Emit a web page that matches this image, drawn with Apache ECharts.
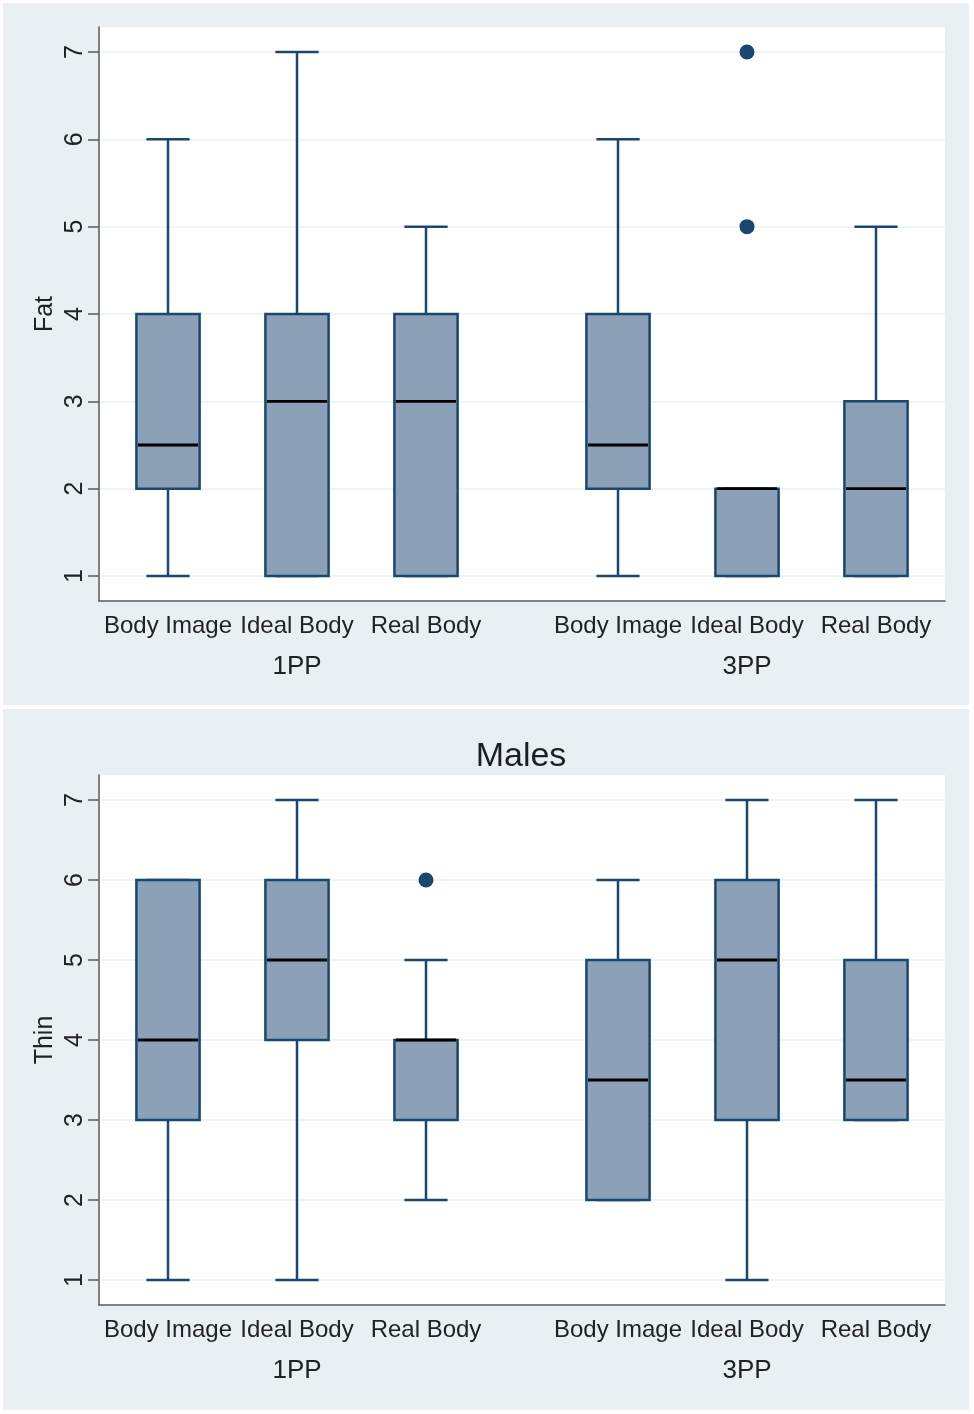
<!DOCTYPE html>
<html>
<head>
<meta charset="utf-8">
<script src="https://cdn.jsdelivr.net/npm/echarts@6/dist/echarts.min.js"></script>
<style>
html,body{margin:0;padding:0;background:#fff;}
#chart{width:974px;height:1414px;}
</style>
</head>
<body>
<div id="chart"></div>
<script>
// ---------------- DATA ----------------
const categories = ['Body Image', 'Ideal Body', 'Real Body'];
const groups = ['1PP', '3PP'];
const yTickMin = 1, yTickMax = 7, yTickStep = 1;

// [min, Q1, median, Q3, max]
const fat1PP = [[1, 2, 2.5, 4, 6], [1, 1, 3, 4, 7], [1, 1, 3, 4, 5]];
const fat3PP = [[1, 2, 2.5, 4, 6], [1, 1, 2, 2, 2], [1, 1, 2, 3, 5]];
const fatOutliers1PP = [];
const fatOutliers3PP = [['Ideal Body', 5], ['Ideal Body', 7]];

const thin1PP = [[1, 3, 4, 6, 6], [1, 4, 5, 6, 7], [2, 3, 4, 4, 5]];
const thin3PP = [[2, 2, 3.5, 5, 6], [1, 3, 5, 6, 7], [3, 3, 3.5, 5, 7]];
const thinOutliers1PP = [['Real Body', 6]];
const thinOutliers3PP = [];

const panelTitles = ['', 'Males'];
const yNames = ['Fat', 'Thin'];

// ---------------- STYLE ----------------
const NAVY = '#1a476f';
const BOXFILL = '#8ca1b7';
const PANELBG = '#e9f0f3';
const FONT = 'Liberation Sans, Arial, sans-serif';

function renderBox(params, api) {
  const x = api.value(0);
  const mn = api.value(1), q1 = api.value(2), md = api.value(3), q3 = api.value(4), mx = api.value(5);
  const band = api.size([1, 0])[0];
  const bw = band * 0.49, cw = band * 0.335;
  const pMin = api.coord([x, mn]), pQ1 = api.coord([x, q1]), pMd = api.coord([x, md]);
  const pQ3 = api.coord([x, q3]), pMax = api.coord([x, mx]);
  const cx = pMd[0];
  const ls = { stroke: NAVY, lineWidth: 2.5 };
  return {
    type: 'group',
    children: [
      { type: 'line', shape: { x1: cx, y1: pMax[1], x2: cx, y2: pQ3[1] }, style: ls },
      { type: 'line', shape: { x1: cx, y1: pQ1[1], x2: cx, y2: pMin[1] }, style: ls },
      { type: 'line', shape: { x1: cx - cw / 2, y1: pMax[1], x2: cx + cw / 2, y2: pMax[1] }, style: ls },
      { type: 'line', shape: { x1: cx - cw / 2, y1: pMin[1], x2: cx + cw / 2, y2: pMin[1] }, style: ls },
      { type: 'rect', shape: { x: cx - bw / 2, y: pQ3[1], width: bw, height: pQ1[1] - pQ3[1] },
        style: { fill: BOXFILL, stroke: NAVY, lineWidth: 2.5 } },
      { type: 'line', shape: { x1: cx - bw / 2 + 1.5, y1: pMd[1], x2: cx + bw / 2 - 1.5, y2: pMd[1] },
        style: { stroke: '#000', lineWidth: 2.8 } }
    ]
  };
}

const panels = [
  { top: 27, axisY: 601, tickTop: 52, tickBottom: 576, data: [fat1PP, fat3PP], outl: [fatOutliers1PP, fatOutliers3PP] },
  { top: 775, axisY: 1305, tickTop: 800, tickBottom: 1280, data: [thin1PP, thin3PP], outl: [thinOutliers1PP, thinOutliers3PP] }
];

const grid = [], xAxis = [], yAxis = [], series = [];
panels.forEach((p, pi) => {
  // background grid with axis lines
  const gBg = grid.length;
  grid.push({ left: 99, right: 29, top: p.top, height: p.axisY - p.top, show: true, backgroundColor: '#fff', borderWidth: 0 });
  xAxis.push({ gridIndex: gBg, type: 'value', min: 0, max: 1, axisLine: { show: true, onZero: false, lineStyle: { color: '#5a5a5a', width: 1.5 } },
    axisTick: { show: false }, axisLabel: { show: false }, splitLine: { show: false } });
  yAxis.push({ gridIndex: gBg, type: 'value', min: 0, max: 1, axisLine: { show: true, onZero: false, lineStyle: { color: '#5a5a5a', width: 1.5 } },
    axisTick: { show: false }, axisLabel: { show: false }, splitLine: { show: false } });
  // tick grid
  const gT = grid.length;
  grid.push({ left: 99, right: 29, top: p.tickTop, height: p.tickBottom - p.tickTop });
  xAxis.push({ gridIndex: gT, type: 'value', show: false, min: 0, max: 1 });
  yAxis.push({ gridIndex: gT, type: 'value', min: yTickMin, max: yTickMax, interval: yTickStep,
    axisLine: { show: false },
    axisTick: { show: true, length: 11, lineStyle: { color: '#5a5a5a', width: 1.5 } },
    axisLabel: { rotate: 90, fontSize: 25, color: '#222', fontFamily: FONT, margin: 11 },
    splitLine: { show: true, lineStyle: { color: '#eaf0f2', width: 1.5 } },
    name: yNames[pi], nameLocation: 'middle', nameGap: 41, nameRotate: 90, nameMoveOverlap: false,
    nameTextStyle: { fontSize: 25, color: '#222', fontFamily: FONT } });
  // group grids
  const lefts = [103.5, 553.5];
  groups.forEach((gname, gi) => {
    const g = grid.length;
    grid.push({ left: lefts[gi], width: 387, top: p.tickTop, height: p.tickBottom - p.tickTop });
    const xi = xAxis.length;
    xAxis.push({ gridIndex: g, type: 'category', data: categories, boundaryGap: true,
      axisLine: { show: false }, axisTick: { show: false },
      axisLabel: { interval: 0, fontSize: 24, color: '#222', fontFamily: FONT, margin: (p.axisY - p.tickBottom) + 13, hideOverlap: false },
      name: gname, nameLocation: 'middle', nameGap: (p.axisY - p.tickBottom) + 53, nameMoveOverlap: false,
      nameTextStyle: { fontSize: 26, color: '#222', fontFamily: FONT } });
    const yi = yAxis.length;
    yAxis.push({ gridIndex: g, type: 'value', min: yTickMin, max: yTickMax, show: false, splitLine: { show: false } });
    series.push({ type: 'custom', xAxisIndex: xi, yAxisIndex: yi, renderItem: renderBox, clip: false,
      encode: { x: 0, y: [1, 2, 3, 4, 5] },
      data: p.data[gi].map((d, i) => [i].concat(d)), z: 5 });
    series.push({ type: 'scatter', xAxisIndex: xi, yAxisIndex: yi, symbol: 'circle', symbolSize: 15,
      itemStyle: { color: NAVY, opacity: 1 }, data: p.outl[gi], z: 6 });
  });
});

const chart = echarts.init(document.getElementById('chart'), null, { renderer: 'canvas' });
chart.setOption({
  backgroundColor: '#ffffff',
  animation: false,
  textStyle: { fontFamily: FONT },
  title: [{ text: panelTitles[1], left: 516, top: 735, textAlign: 'center',
    textStyle: { fontSize: 34, fontWeight: 'normal', color: '#1e1e2a', fontFamily: FONT } }],
  graphic: [
    { type: 'rect', z: -10, shape: { x: 3, y: 3, width: 966, height: 702 }, style: { fill: PANELBG } },
    { type: 'rect', z: -10, shape: { x: 3, y: 709, width: 966, height: 701 }, style: { fill: PANELBG } }
  ],
  grid, xAxis, yAxis, series
});
</script>
</body>
</html>
